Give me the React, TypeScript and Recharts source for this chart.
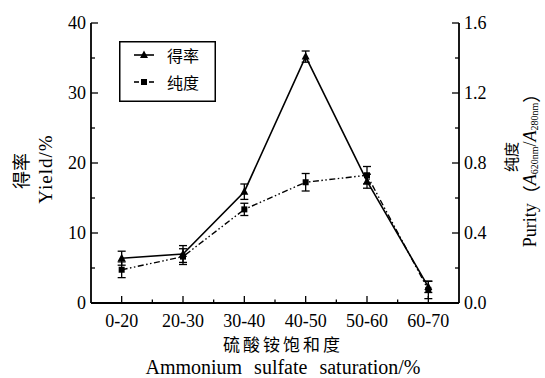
import React from 'react';
import { ComposedChart, Line, XAxis, YAxis, ErrorBar } from 'recharts';

const categories = ['0-20', '20-30', '30-40', '40-50', '50-60', '60-70'];
const yieldValues = [6.4, 7.0, 15.9, 35.2, 17.4, 2.3];
const yieldErrors = [1.0, 1.2, 1.1, 0.8, 1.0, 0.8];
const purityValues = [0.19, 0.265, 0.535, 0.69, 0.73, 0.075];
const purityErrors = [0.045, 0.045, 0.035, 0.05, 0.05, 0.05];
const leftTicks = [0, 5, 10, 15, 20, 25, 30, 35, 40];
const rightTicks = [0, 0.2, 0.4, 0.6, 0.8, 1.0, 1.2, 1.4, 1.6];

const data = categories.map((c, i) => ({
  cat: c,
  yld: yieldValues[i],
  yldErr: yieldErrors[i],
  pur: purityValues[i],
  purErr: purityErrors[i],
}));

const SERIF = "'Liberation Serif', 'DejaVu Serif', serif";
const CJK = "'Noto Sans CJK SC', sans-serif";
const TM = 6;
const PAD = 30.67;

const serifStyle = { fontFamily: SERIF };
const cjkStyle = { fontFamily: CJK };

const LeftTick = (props: any) => {
  const { x, y, payload, index } = props;
  const major = index % 2 === 0;
  const ax = x + TM;
  return (
    <g>
      <line x1={ax} x2={ax + (major ? 7 : 4)} y1={y} y2={y} stroke="#000" strokeWidth={1.3} />
      {major && (
        <text x={ax - 5} y={y} dy="0.35em" textAnchor="end" style={serifStyle} fontSize={18} fill="#000">
          {payload.value}
        </text>
      )}
    </g>
  );
};

const RightTick = (props: any) => {
  const { x, y, payload, index } = props;
  const major = index % 2 === 0;
  const ax = x - TM;
  return (
    <g>
      <line x1={ax} x2={ax - (major ? 7 : 4)} y1={y} y2={y} stroke="#000" strokeWidth={1.3} />
      {major && (
        <text x={ax + 5} y={y} dy="0.35em" textAnchor="start" style={serifStyle} fontSize={18} fill="#000">
          {Number(payload.value).toFixed(1)}
        </text>
      )}
    </g>
  );
};

const BottomTick = (props: any) => {
  const { x, y, payload, index, width, visibleTicksCount } = props;
  const n = visibleTicksCount || categories.length;
  const w = width || 368;
  const step = (w - 2 * PAD) / (n - 1);
  const ay = y - TM;
  return (
    <g>
      <line x1={x} x2={x} y1={ay} y2={ay - 7} stroke="#000" strokeWidth={1.3} />
      {index < n - 1 && (
        <line x1={x + step / 2} x2={x + step / 2} y1={ay} y2={ay - 3.5} stroke="#000" strokeWidth={1.3} />
      )}
      <text x={x} y={ay + 24} textAnchor="middle" style={serifStyle} fontSize={18} fill="#000">
        {payload.value}
      </text>
    </g>
  );
};

const Triangle = (props: any) => {
  const { cx, cy } = props;
  if (cx == null || cy == null) return null;
  return <path d={`M${cx},${cy - 4.5} L${cx + 4},${cy + 3} L${cx - 4},${cy + 3} Z`} fill="#000" />;
};

const Square = (props: any) => {
  const { cx, cy } = props;
  if (cx == null || cy == null) return null;
  return <rect x={cx - 3} y={cy - 3} width={6} height={6} fill="#000" />;
};

const LeftTitle = (props: any) => {
  const vb = props.viewBox || { x: 0, y: 23, width: 91, height: 280 };
  const cy = vb.y + vb.height / 2 + 8;
  const x1 = vb.x + 20;
  const x2 = vb.x + 45;
  return (
    <g>
      <text x={x1} y={cy} transform={`rotate(-90, ${x1}, ${cy})`} textAnchor="middle" dominantBaseline="central" style={cjkStyle} fontSize={18} fill="#000">
        得率
      </text>
      <text x={x2} y={cy - 2} transform={`rotate(-90, ${x2}, ${cy - 2})`} textAnchor="middle" dominantBaseline="central" style={serifStyle} fontSize={19} letterSpacing={1} fill="#000">
        Yield/%
      </text>
    </g>
  );
};

const RightTitle = (props: any) => {
  const vb = props.viewBox || { x: 459, y: 23, width: 86, height: 280 };
  const x1 = vb.x + 51;
  const y1 = 157;
  const x2 = vb.x + 71;
  const y2 = 166;
  return (
    <g>
      <text x={x1} y={y1} transform={`rotate(-90, ${x1}, ${y1})`} textAnchor="middle" dominantBaseline="central" style={cjkStyle} fontSize={15} fill="#000">
        纯度
      </text>
      <text x={x2} y={y2} transform={`rotate(-90, ${x2}, ${y2})`} textAnchor="middle" dominantBaseline="central" style={serifStyle} fontSize={18} fill="#000">
        <tspan>Purity</tspan>
        <tspan style={cjkStyle}>（</tspan>
        <tspan fontStyle="italic">A</tspan>
        <tspan fontSize={10} dy={4}>620nm</tspan>
        <tspan dy={-4}>/</tspan>
        <tspan fontStyle="italic">A</tspan>
        <tspan fontSize={10} dy={4}>280nm</tspan>
        <tspan dy={-4} style={cjkStyle}>）</tspan>
      </text>
    </g>
  );
};

const BottomTitle = (props: any) => {
  const vb = props.viewBox || { x: 91, y: 303, width: 368, height: 75 };
  const cx = vb.x + vb.width / 2 + 8;
  return (
    <g>
      <text x={cx} y={vb.y + 48} textAnchor="middle" style={cjkStyle} fontSize={17} letterSpacing={3} fill="#000">
        硫酸铵饱和度
      </text>
      <text x={cx} y={vb.y + 71} textAnchor="middle" style={serifStyle} fontSize={20} wordSpacing={7} fill="#000">
        Ammonium sulfate saturation/%
      </text>
    </g>
  );
};

const LegendBox = () => (
  <svg width={97} height={61} style={{ display: 'block' }}>
    <rect x={0.75} y={0.75} width={95.5} height={59.5} fill="#fff" stroke="#000" strokeWidth={1.5} />
    <line x1={15} x2={35} y1={14} y2={14} stroke="#000" strokeWidth={1.6} />
    <path d="M25,9.5 L29,17 L21,17 Z" fill="#000" />
    <text x={48} y={14} dominantBaseline="central" style={cjkStyle} fontSize={16} fill="#000">得率</text>
    <line x1={15} x2={20} y1={41} y2={41} stroke="#000" strokeWidth={1.6} />
    <line x1={30} x2={35} y1={41} y2={41} stroke="#000" strokeWidth={1.6} />
    <rect x={22} y={38} width={6} height={6} fill="#000" />
    <text x={48} y={41} dominantBaseline="central" style={cjkStyle} fontSize={16} fill="#000">纯度</text>
  </svg>
);

export default function App() {
  return (
    <div style={{ position: 'absolute', left: 0, top: 0, width: 545, height: 378, background: '#fff' }}>
      <ComposedChart width={545} height={378} data={data} margin={{ top: 23, right: 0, bottom: 0, left: 0 }}>
        <XAxis
          dataKey="cat"
          type="category"
          height={75}
          padding={{ left: PAD, right: PAD }}
          interval={0}
          tickSize={0}
          tickMargin={TM}
          tickLine={false}
          tick={<BottomTick />}
          axisLine={{ stroke: '#000', strokeWidth: 2 }}
          label={{ content: (p: any) => <BottomTitle {...p} /> }}
        />
        <YAxis
          yAxisId="left"
          orientation="left"
          width={91}
          domain={[0, 40]}
          ticks={leftTicks}
          interval={0}
          tickSize={0}
          tickMargin={TM}
          tickLine={false}
          tick={<LeftTick />}
          axisLine={{ stroke: '#000', strokeWidth: 1.8 }}
          label={{ content: (p: any) => <LeftTitle {...p} /> }}
        />
        <YAxis
          yAxisId="right"
          orientation="right"
          width={86}
          domain={[0, 1.6]}
          ticks={rightTicks}
          interval={0}
          tickSize={0}
          tickMargin={TM}
          tickLine={false}
          tick={<RightTick />}
          axisLine={{ stroke: '#000', strokeWidth: 1.8 }}
          label={{ content: (p: any) => <RightTitle {...p} /> }}
        />
        <Line
          yAxisId="right"
          dataKey="pur"
          stroke="#000"
          strokeWidth={1.4}
          strokeDasharray="6 2.5 1.5 2.5 1.5 2.5"
          dot={<Square />}
          activeDot={false}
          isAnimationActive={false}
        >
          <ErrorBar dataKey="purErr" width={4} stroke="#000" strokeWidth={1.3} direction="y" />
        </Line>
        <Line
          yAxisId="left"
          dataKey="yld"
          stroke="#000"
          strokeWidth={1.6}
          dot={<Triangle />}
          activeDot={false}
          isAnimationActive={false}
        >
          <ErrorBar dataKey="yldErr" width={4} stroke="#000" strokeWidth={1.3} direction="y" />
        </Line>
      </ComposedChart>
      <div style={{ position: 'absolute', left: 119, top: 41 }}>
        <LegendBox />
      </div>
    </div>
  );
}
